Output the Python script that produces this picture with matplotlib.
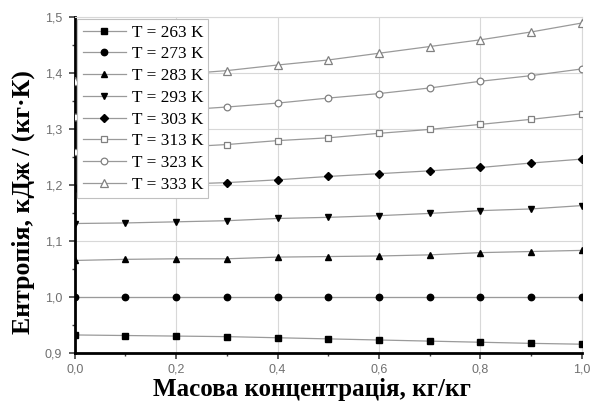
import matplotlib
matplotlib.use("Agg")
import matplotlib.pyplot as plt
from matplotlib.ticker import MultipleLocator, FuncFormatter

# Mass concentration, kg/kg
conc = [0.0, 0.1, 0.2, 0.3, 0.4, 0.5, 0.6, 0.7, 0.8, 0.9, 1.0]

# Entropy, kJ/(kg·K), per temperature
temps = ["263", "273", "283", "293", "303", "313", "323", "333"]
s_263 = [0.932, 0.931, 0.930, 0.929, 0.927, 0.925, 0.923, 0.921, 0.919, 0.917, 0.9155]
s_273 = [1.000, 1.000, 1.000, 1.000, 1.000, 1.000, 1.000, 1.000, 1.000, 1.000, 1.000]
s_283 = [1.065, 1.067, 1.068, 1.068, 1.071, 1.072, 1.073, 1.075, 1.079, 1.081, 1.083]
s_293 = [1.131, 1.132, 1.134, 1.136, 1.140, 1.142, 1.145, 1.149, 1.154, 1.157, 1.163]
s_303 = [1.195, 1.198, 1.201, 1.204, 1.209, 1.215, 1.220, 1.225, 1.231, 1.239, 1.246]
s_313 = [1.258, 1.262, 1.267, 1.272, 1.279, 1.284, 1.292, 1.299, 1.308, 1.317, 1.327]
s_323 = [1.322, 1.328, 1.333, 1.339, 1.346, 1.355, 1.363, 1.373, 1.385, 1.395, 1.407]
s_333 = [1.385, 1.391, 1.397, 1.404, 1.414, 1.423, 1.435, 1.447, 1.459, 1.473, 1.489]
series = [s_263, s_273, s_283, s_293, s_303, s_313, s_323, s_333]

markers = ["s", "o", "^", "v", "D", "s", "o", "^"]
filled = [True, True, True, True, True, False, False, False]
sizes = [4.2, 4.6, 5.0, 5.0, 4.2, 4.4, 4.8, 5.2]

fig = plt.figure(figsize=(5.98, 4.01), dpi=100)
ax = fig.add_axes([0.125, 0.120, 0.848, 0.838])

line_col = "#9a9a9a"
for t, vals, m, f, ms in zip(temps, series, markers, filled, sizes):
    if f:
        ax.plot(conc, vals, color=line_col, lw=0.9, marker=m, ms=ms,
                mfc="black", mec="black", label=f"T = {t} K", zorder=3)
    else:
        ax.plot(conc, vals, color=line_col, lw=0.9, marker=m, ms=ms,
                mfc="white", mec="#808080", mew=0.9, label=f"T = {t} K", zorder=3)

ax.set_xlim(0.0, 1.0)
ax.set_ylim(0.9, 1.5)
ax.xaxis.set_major_locator(MultipleLocator(0.2))
ax.xaxis.set_minor_locator(MultipleLocator(0.1))
ax.yaxis.set_major_locator(MultipleLocator(0.1))
ax.yaxis.set_minor_locator(MultipleLocator(0.05))
comma = FuncFormatter(lambda v, p: f"{v:.1f}".replace(".", ","))
ax.xaxis.set_major_formatter(comma)
ax.yaxis.set_major_formatter(comma)

ax.grid(True, which="major", color="#d8d8d8", lw=0.8, zorder=0)
ax.set_axisbelow(True)
for side in ("top", "right"):
    ax.spines[side].set_color("#d8d8d8")
    ax.spines[side].set_linewidth(0.8)
for side in ("left", "bottom"):
    ax.spines[side].set_color("black")
    ax.spines[side].set_linewidth(2.0)

ax.tick_params(which="major", direction="out", length=4, width=1.2, pad=5,
               labelsize=9, labelcolor="#707070", color="#404040")
ax.tick_params(axis="x", which="major", pad=4)
ax.tick_params(which="minor", direction="out", length=2.5, width=1.0, color="#404040")
ax.tick_params(top=False, right=False, which="both")
for lab in ax.get_xticklabels() + ax.get_yticklabels():
    lab.set_family("Liberation Sans")

ax.set_xlabel("Масова концентрація, кг/кг", family="Liberation Serif",
              weight="bold", size=18)
ax.xaxis.set_label_coords(0.468, -0.074)
ax.set_ylabel("Ентропія, кДж / (кг·К)", family="Liberation Serif",
              weight="bold", size=18.5)
ax.yaxis.set_label_coords(-0.078, 0.448)

leg = ax.legend(loc="upper left", bbox_to_anchor=(0.0, 1.0), frameon=True,
                fancybox=False, edgecolor="#c0c0c0", framealpha=1.0,
                prop=dict(family="Liberation Serif", size=12.4),
                handlelength=2.5, labelspacing=0.33, borderpad=0.3,
                handletextpad=0.35, borderaxespad=0.15)
leg.get_frame().set_linewidth(0.8)
leg.set_zorder(5)

fig.savefig("out.png", dpi=100)
